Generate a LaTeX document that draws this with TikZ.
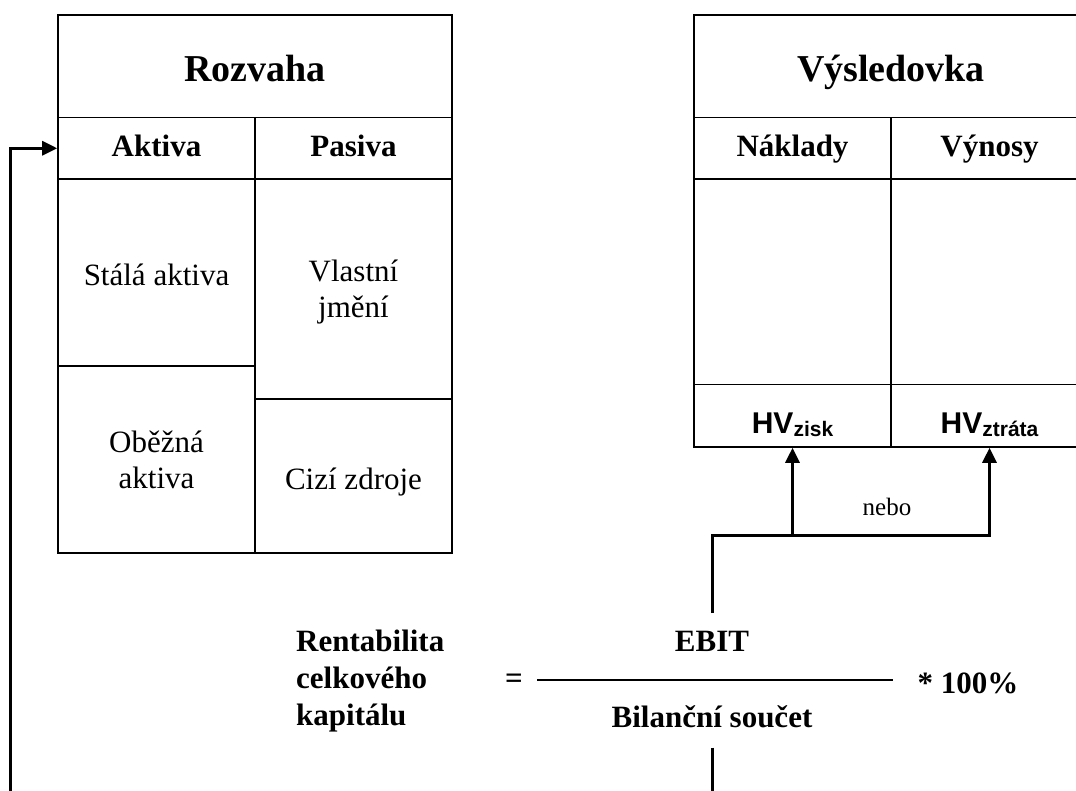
\documentclass[tikz,border=0pt]{standalone}
\usepackage{fontspec}
\setmainfont{Liberation Serif}
\newfontfamily\arialfam{Liberation Sans}
\usetikzlibrary{arrows.meta}

\newcommand\SizeTitle{\fontsize{38}{44}\selectfont}
\newcommand\SizeHead{\fontsize{31}{36}\selectfont}
\newcommand\SizeBody{\fontsize{31}{36}\selectfont}
\newcommand\SizeFormula{\fontsize{31}{37}\selectfont}
\newcommand\SizeSmall{\fontsize{25}{30}\selectfont}
\newcommand\HVlabel[1]{{\arialfam\bfseries\fontsize{30}{36}\selectfont HV\raisebox{-3pt}{\fontsize{21}{24}\selectfont #1}}}

\begin{document}
\begin{tikzpicture}[x=1pt,y=-1pt,
  cell/.style={draw,line width=1.6pt,inner sep=0pt,align=center,font=\SizeBody},
  linecell/.style={cell,text height=26pt,text depth=0pt},
  titlecell/.style={cell,font=\SizeTitle\bfseries,text height=31pt,text depth=0pt},
  headcell/.style={cell,font=\SizeHead\bfseries,text height=25pt,text depth=8pt},
  hvcell/.style={cell,text height=36pt,text depth=0pt},
  formula/.style={inner sep=0pt,font=\SizeFormula\bfseries},
  conn/.style={line width=3pt},
  tip/.style={-{Triangle[length=15pt,width=14pt]}},
  fracline/.style={line width=1.3pt}]

\useasboundingbox (0,0) rectangle (1076,790);
\clip (0,0) rectangle (1076,790);

% balance sheet
\node[titlecell,minimum width=394pt,minimum height=102.5pt] (rozvaha) at (255,66.25) {Rozvaha};
\node[headcell,minimum width=197pt,minimum height=61.5pt] (aktiva) at (156.5,148.25) {Aktiva};
\node[headcell,minimum width=197pt,minimum height=61.5pt] (pasiva) at (353.5,148.25) {Pasiva};
\node[linecell,minimum width=197pt,minimum height=187pt] (stala) at (156.5,272.5) {Stálá aktiva};
\node[cell,minimum width=197pt,minimum height=187pt] (obezna) at (156.5,459.5) {Oběžná\\aktiva};
\node[cell,minimum width=197pt,minimum height=220pt] (vlastni) at (353.5,289) {Vlastní\\\smash{j}mění};
\node[linecell,minimum width=197pt,minimum height=154pt] (cizi) at (353.5,476) {Cizí zdroje};

% income statement
\node[titlecell,minimum width=394pt,minimum height=102.5pt] (vysledovka) at (891,66.25) {Výsledovka};
\node[headcell,minimum width=197pt,minimum height=61.5pt] (naklady) at (792.5,148.25) {Náklady};
\node[headcell,minimum width=197pt,minimum height=61.5pt] (vynosy) at (989.5,148.25) {Výnosy};
\node[cell,minimum width=197pt,minimum height=205.5pt] (nakladybody) at (792.5,281.75) {};
\node[cell,minimum width=197pt,minimum height=205.5pt] (vynosybody) at (989.5,281.75) {};
\node[hvcell,minimum width=197pt,minimum height=62.5pt] (hvzisk) at (792.5,415.75) {\HVlabel{zisk}};
\node[hvcell,minimum width=197pt,minimum height=62.5pt] (hvztrata) at (989.5,415.75) {\HVlabel{ztráta}};

% formula
\node[formula,anchor=west,align=left] (rent) at (296,681) {Rentabilita\\celkového\\kapitálu};
\node[formula,anchor=base] (eq) at (514,688) {=};
\node[formula,anchor=base] (ebit) at (712,651) {EBIT};
\node[formula,anchor=base] (bil) at (712,727) {Bilanční součet};
\node[formula,anchor=base] (pct) at (968,693) {* 100\%};
\coordinate (fracl) at (537,680);
\coordinate (fracr) at (893,680);
\draw[fracline] (fracl) -- (fracr);

% links from EBIT to the result cells
\coordinate (fork) at (0,535);
\node[inner sep=0pt,font=\SizeSmall,anchor=base] (nebo) at (887,515) {nebo};
\draw[conn,tip] ([yshift=17.5pt]ebit.north) |- (fork -| hvztrata.south) -- (hvztrata.south);
\draw[conn,tip] (fork -| hvzisk.south) -- (hvzisk.south);

% links running off the bottom edge
\coordinate (bottomedge) at (0,800);
\draw[conn] ([yshift=-20pt]bil.south) -- (bil.south |- bottomedge);
\coordinate (feedback) at (10,800);
\draw[conn,tip] (feedback) |- (aktiva.west);
\end{tikzpicture}
\end{document}
